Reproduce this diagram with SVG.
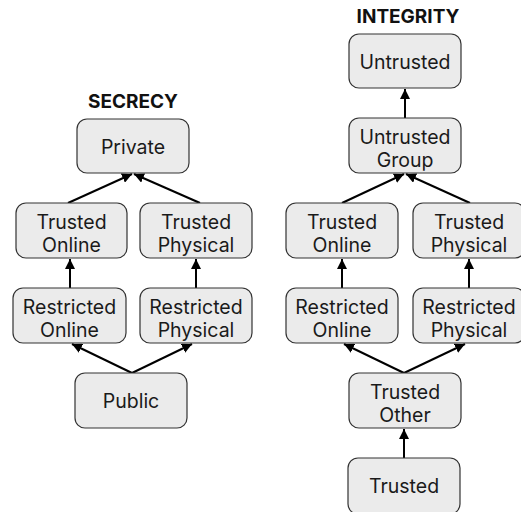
<svg xmlns="http://www.w3.org/2000/svg" width="521" height="512" viewBox="0 0 521 512">
<defs>
<style>
.box{fill:#ebebeb;stroke:#333;stroke-width:1.2}
.lbl{font-family:Inter,"Noto Sans",sans-serif;font-size:19.5px;fill:#1a1a1a;text-anchor:middle}
.ttl{font-family:Inter,"Noto Sans",sans-serif;font-size:19px;font-weight:bold;fill:#111;text-anchor:middle}
.edge{stroke:#000;stroke-width:2;fill:none;marker-end:url(#ah)}
</style>
<marker id="ah" viewBox="0 0 10 10" refX="10" refY="5" markerWidth="5" markerHeight="5" orient="auto" markerUnits="strokeWidth">
<path d="M0,0 L10,5 L0,10 z" fill="#000"/>
</marker>
</defs>
<rect width="521" height="512" fill="#fff"/>
<text class="ttl" x="133" y="108">SECRECY</text>
<text class="ttl" x="408" y="23">INTEGRITY</text>
<g id="connectors">
<line class="edge" x1="68" y1="203" x2="132" y2="174"/>
<line class="edge" x1="200" y1="203" x2="134" y2="174"/>
<line class="edge" x1="70" y1="288" x2="70" y2="259"/>
<line class="edge" x1="196" y1="288" x2="196" y2="259"/>
<line class="edge" x1="132" y1="373" x2="72" y2="344"/>
<line class="edge" x1="132" y1="373" x2="192" y2="344"/>
<line class="edge" x1="405" y1="118" x2="405" y2="89"/>
<line class="edge" x1="342" y1="203" x2="404" y2="174"/>
<line class="edge" x1="470" y1="203" x2="406" y2="174"/>
<line class="edge" x1="342" y1="288" x2="342" y2="259"/>
<line class="edge" x1="469" y1="288" x2="469" y2="259"/>
<line class="edge" x1="404" y1="373" x2="344" y2="344"/>
<line class="edge" x1="404" y1="373" x2="465" y2="344"/>
<line class="edge" x1="404" y1="458" x2="404" y2="429"/>
</g>
<g id="s-private"><rect class="box" x="77" y="119" width="112" height="54" rx="10"/><text class="lbl" x="133" y="154">Private</text></g>
<g id="s-trusted-online"><rect class="box" x="16" y="203" width="111" height="55" rx="10"/><text class="lbl" x="71.5" y="229">Trusted</text><text class="lbl" x="71.5" y="252">Online</text></g>
<g id="s-trusted-physical"><rect class="box" x="140" y="203" width="112" height="55" rx="10"/><text class="lbl" x="196" y="229">Trusted</text><text class="lbl" x="196" y="252">Physical</text></g>
<g id="s-restricted-online"><rect class="box" x="13" y="288" width="113" height="55" rx="10"/><text class="lbl" x="69.5" y="314">Restricted</text><text class="lbl" x="69.5" y="337">Online</text></g>
<g id="s-restricted-physical"><rect class="box" x="140" y="288" width="112" height="55" rx="10"/><text class="lbl" x="196" y="314">Restricted</text><text class="lbl" x="196" y="337">Physical</text></g>
<g id="s-public"><rect class="box" x="75" y="373" width="112" height="55" rx="10"/><text class="lbl" x="131" y="408">Public</text></g>
<g id="i-untrusted"><rect class="box" x="349" y="34" width="112" height="54" rx="10"/><text class="lbl" x="405" y="69">Untrusted</text></g>
<g id="i-untrusted-group"><rect class="box" x="349" y="118" width="112" height="55" rx="10"/><text class="lbl" x="405" y="144">Untrusted</text><text class="lbl" x="405" y="167">Group</text></g>
<g id="i-trusted-online"><rect class="box" x="286" y="203" width="112" height="55" rx="10"/><text class="lbl" x="342" y="229">Trusted</text><text class="lbl" x="342" y="252">Online</text></g>
<g id="i-trusted-physical"><rect class="box" x="413" y="203" width="112" height="55" rx="10"/><text class="lbl" x="469" y="229">Trusted</text><text class="lbl" x="469" y="252">Physical</text></g>
<g id="i-restricted-online"><rect class="box" x="286" y="288" width="112" height="55" rx="10"/><text class="lbl" x="342" y="314">Restricted</text><text class="lbl" x="342" y="337">Online</text></g>
<g id="i-restricted-physical"><rect class="box" x="413" y="288" width="112" height="55" rx="10"/><text class="lbl" x="469" y="314">Restricted</text><text class="lbl" x="469" y="337">Physical</text></g>
<g id="i-trusted-other"><rect class="box" x="349" y="373" width="112" height="55" rx="10"/><text class="lbl" x="405" y="399">Trusted</text><text class="lbl" x="405" y="422">Other</text></g>
<g id="i-trusted"><rect class="box" x="348" y="458" width="112" height="56" rx="10"/><text class="lbl" x="404" y="493">Trusted</text></g>
</svg>
